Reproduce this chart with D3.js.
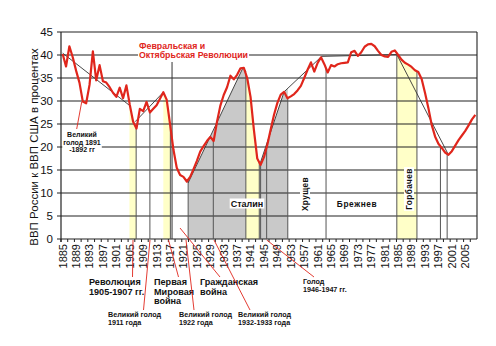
<!DOCTYPE html>
<html><head><meta charset="utf-8">
<script src="https://cdn.jsdelivr.net/npm/d3@7"></script>
<style>body{margin:0;background:#fff}svg{display:block}</style>
</head><body>
<svg id="c" width="496" height="346"></svg>
<script>
// ---------- data ----------
const years = d3.range(1885, 2009);
const gdpShare = [
 40.2,37.5,41.9,39.5,36.6,34.0,29.9,29.5,33.5,40.8, // 1885-1894
 34.5,37.8,34.3,34.0,33.0,31.8,30.9,32.9,30.6,33.4, // 1895-1904
 29.2,25.5,24.0,28.3,27.8,29.8,27.5,28.3,29.1,30.5, // 1905-1914
 31.9,30.3,25.0,19.5,15.5,13.9,13.5,12.5,13.5,15.2, // 1915-1924
 17.0,19.0,20.2,21.3,22.2,21.3,25.5,29.0,31.3,33.0, // 1925-1934
 35.5,34.7,35.7,37.1,37.2,35.0,30.9,23.7,17.5,16.1, // 1935-1944
 17.8,20.5,23.8,27.0,29.6,31.4,32.0,30.6,31.0,31.5, // 1945-1954
 32.3,33.3,35.0,36.8,38.4,36.4,38.3,39.5,38.0,36.2, // 1955-1964
 37.8,37.5,38.0,38.2,38.3,38.4,40.6,40.9,39.8,40.6, // 1965-1974
 41.8,42.3,42.4,41.9,40.9,40.0,39.7,39.6,40.7,41.0, // 1975-1984
 40.0,39.0,38.3,37.9,37.4,36.7,36.3,34.8,31.8,28.5, // 1985-1994
 24.8,22.3,20.7,19.8,18.8,18.3,19.1,20.3,21.5,22.5, // 1995-2004
 23.5,24.7,26.0,27.0                                // 2005-2008
];
const yTicks = [0,5,10,15,20,25,30,35,40,45];
const xTickYears = d3.range(1885, 2006, 4);
const trendSegments = [
  [[1885,40.4],[1905,29.0]],
  [[1906.6,25.5],[1915,31.9]],
  [[1922.4,12.2],[1938.8,37.3],[1939.6,36.4]],
  [[1943.8,16.3],[1951,32.0],[1962.2,39.7],[1984.6,40.1],[2000,18.3]]
];
const yellowBands = [[1904.9,1906.9],[1915.0,1917.1],[1939.6,1943.6],[1984.6,1990.6]];
const grayBands = [[1922.4,1939.6],[1943.6,1952.1]];
const dropYears = [1906.9,1911.0,1917.1,1922.4,1929.9,1939.6,1943.6,1944.0,1945.8,1952.1,1963.5,1984.6,1990.6,1997.6,1999.6];
const yTitle = "ВВП России к ВВП США в процентах";

// ---------- scales ----------
const svg = d3.select("#c");
const x = d3.scaleLinear().domain([1884.5, 2008.5]).range([61, 477]);
const y = d3.scaleLinear().domain([0, 45]).range([239, 32]);
const pts = years.map((yr,i)=>[yr, gdpShare[i]]);
const interp = yr => {
  const i = d3.bisector(d=>d[0]).left(pts, yr);
  if (i<=0) return pts[0][1];
  if (i>=pts.length) return pts[pts.length-1][1];
  const a=pts[i-1], b=pts[i], t=(yr-a[0])/(b[0]-a[0]);
  return a[1]+(b[1]-a[1])*t;
};
const FONT = "'Liberation Sans', Arial, sans-serif";
const defs = svg.append("defs");

// ---------- fills ----------
const areaUnder = d3.area().x(d=>x(d[0])).y0(y(0)).y1(d=>y(d[1]));
grayBands.forEach((b,i)=>{
  const id="gclip"+i;
  defs.append("clipPath").attr("id",id).append("rect")
    .attr("x",x(b[0])).attr("y",0).attr("width",x(b[1])-x(b[0])).attr("height",y(0));
  const seg = i===0 ? trendSegments[2] : trendSegments[3];
  const poly = i===0 ? seg : [[1943.6,16.3]].concat(seg);
  svg.append("path").datum(poly).attr("d",areaUnder).attr("fill","#c9c9c9")
    .attr("clip-path",`url(#${id})`);
});
yellowBands.forEach((b,i)=>{
  const id="yclip"+i;
  defs.append("clipPath").attr("id",id).append("rect")
    .attr("x",x(b[0])).attr("y",0).attr("width",x(b[1])-x(b[0])).attr("height",y(0));
  svg.append("path").datum(pts).attr("d",areaUnder).attr("fill","#ffffc8")
    .attr("clip-path",`url(#${id})`);
});

// ---------- gridlines & axes ----------
svg.append("g").selectAll("line").data(yTicks).join("line")
  .attr("x1",57).attr("x2",x.range()[1]).attr("y1",d=>y(d)).attr("y2",d=>y(d))
  .attr("stroke","#222").attr("stroke-width",1.1);
svg.append("line").attr("x1",x.range()[1]).attr("x2",x.range()[1]).attr("y1",y(45)).attr("y2",y(0))
  .attr("stroke","#222").attr("stroke-width",1.1);
svg.append("line").attr("x1",61).attr("x2",61).attr("y1",y(45)).attr("y2",y(0)+3)
  .attr("stroke","#222").attr("stroke-width",1.2);
svg.append("g").selectAll("line").data(d3.range(1885,2009,2)).join("line")
  .attr("x1",d=>x(d-0.5)).attr("x2",d=>x(d-0.5)).attr("y1",y(0)).attr("y2",y(0)+3)
  .attr("stroke","#222");
svg.append("g").selectAll("text").data(yTicks).join("text")
  .attr("x",53).attr("y",d=>y(d)+4).attr("text-anchor","end")
  .attr("font-family",FONT).attr("font-size",11.5).attr("fill","#111").text(d=>d);
svg.append("g").selectAll("text").data(xTickYears).join("text")
  .attr("transform",d=>`translate(${x(d)+3.9},244) rotate(-90)`).attr("text-anchor","end")
  .attr("font-family",FONT).attr("font-size",11).attr("fill","#111").text(d=>d);
svg.append("text").attr("transform","translate(38,147) rotate(-90)").attr("text-anchor","middle")
  .attr("font-family",FONT).attr("font-size",11.5).attr("fill","#111").text(yTitle);

// ---------- drop lines ----------
svg.append("g").selectAll("line").data(dropYears).join("line")
  .attr("x1",d=>x(d)).attr("x2",d=>x(d)).attr("y1",d=>y(interp(d))).attr("y2",y(0))
  .attr("stroke","#555").attr("stroke-width",1);
svg.append("line").attr("x1",x(1917.6)).attr("x2",x(1917.6)).attr("y1",62).attr("y2",y(0))
  .attr("stroke","#333").attr("stroke-width",1);

// ---------- trend lines ----------
const lineGen = d3.line().x(d=>x(d[0])).y(d=>y(d[1]));
svg.append("g").selectAll("path").data(trendSegments).join("path")
  .attr("d",lineGen).attr("fill","none").attr("stroke","#333").attr("stroke-width",0.9);

// ---------- main series ----------
svg.append("path").datum(pts).attr("d",lineGen).attr("fill","none")
  .attr("stroke","#e0261c").attr("stroke-width",2.2).attr("stroke-linejoin","round");

// ---------- annotations ----------
function label(lines, x0, y0, size, opts={}) {
  const g = svg.append("g");
  const lh = opts.lh || size*1.1;
  const t = g.append("text").attr("font-family",FONT).attr("font-size",size)
    .attr("font-weight","bold").attr("fill",opts.fill||"#111")
    .attr("text-anchor",opts.anchor||"start");
  if (opts.ls) t.attr("letter-spacing",opts.ls);
  if (opts.rotate) t.attr("transform",`translate(${x0},${y0}) rotate(-90)`);
  lines.forEach((s,i)=>t.append("tspan").attr("x",opts.rotate?0:x0).attr("y",(opts.rotate?0:y0)+i*lh).text(s));
  if (opts.bg) {
    const bb = t.node().getBBox();
    const r = g.insert("rect","text").attr("fill","#fff");
    if (opts.rotate) r.attr("transform",`translate(${x0},${y0}) rotate(-90)`);
    r.attr("x",bb.x-1).attr("y",bb.y).attr("width",bb.width+2).attr("height",bb.height);
  }
  return g;
}
const red="#e0261c";
function pointer(x1,y1,x2,y2){ svg.append("line").attr("x1",x1).attr("y1",y1).attr("x2",x2).attr("y2",y2)
  .attr("stroke",red).attr("stroke-width",0.9); }

label(["Февральская и"],139,49,8.8,{fill:red});
label(["Октябрьская Революции"],139,58,8.8,{fill:red,bg:true});
pointer(76.7,129,81.7,102);
label(["Великий","голод 1891","-1892 гг"],82,137,7,{anchor:"middle",lh:7.7,bg:true});
label(["Сталин"],247,206.5,9,{anchor:"middle",bg:true});
label(["Брежнев"],357,206.5,8.3,{anchor:"middle",ls:0.6});
label(["Хрущев"],308,194,8.3,{anchor:"middle",rotate:true,bg:true,ls:0.4});
label(["Горбачев"],412,189,8.3,{anchor:"middle",rotate:true,bg:true,ls:0.4});

label(["Революция","1905-1907 гг."],89,285,9.1,{lh:9.5});
label(["Первая","Мировая","война"],154,285,9.1,{lh:9.5});
label(["Гражданская","война"],200,285,9.1,{lh:9.5});
label(["Голод","1946-1947 гг."],303,284,7.2,{lh:8});
label(["Великий голод","1911 года"],108,317,7.2,{lh:8.3});
label(["Великий голод","1922 года"],179,317,7.2,{lh:8.3});
label(["Великий голод","1932-1933 года"],238,317,7.2,{lh:8.3});

pointer(132.5,277,133,240);
pointer(143.5,310,150,240);
pointer(178.5,277,168.5,240);
pointer(194,310,186,240);
pointer(220,277,180,228);
pointer(250,310,214,240);
pointer(314,277,266.7,240);
</script>
</body></html>
